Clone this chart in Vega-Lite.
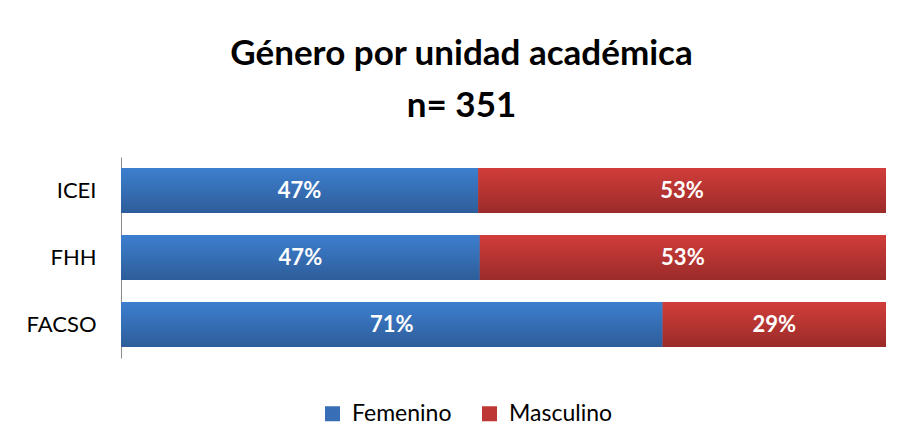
{
  "$schema": "https://vega.github.io/schema/vega-lite/v6.json",
  "autosize": "none",
  "width": 765,
  "height": 201,
  "padding": {"left": 121, "top": 157, "right": 16, "bottom": 84},
  "background": "white",
  "config": {"view": {"stroke": null}, "font": "Lato"},
  "title": {
    "text": ["Género por unidad académica", "n= 351"],
    "font": "Lato",
    "fontSize": 35,
    "fontWeight": "bold",
    "color": "#000000",
    "anchor": "middle",
    "frame": "group",
    "dx": -42,
    "lineHeight": 52,
    "offset": 33
  },
  "data": {
    "values": [
      {"unidad": "ICEI", "genero": "Femenino", "v": 0.467},
      {"unidad": "ICEI", "genero": "Masculino", "v": 0.533},
      {"unidad": "FHH", "genero": "Femenino", "v": 0.469},
      {"unidad": "FHH", "genero": "Masculino", "v": 0.531},
      {"unidad": "FACSO", "genero": "Femenino", "v": 0.708},
      {"unidad": "FACSO", "genero": "Masculino", "v": 0.292}
    ]
  },
  "transform": [
    {"stack": "v", "groupby": ["unidad"], "sort": [{"field": "genero", "order": "ascending"}], "as": ["v0", "v1"]},
    {"calculate": "(datum.v0 + datum.v1) / 2", "as": "mid"}
  ],
  "encoding": {
    "y": {
      "field": "unidad",
      "type": "nominal",
      "sort": ["ICEI", "FHH", "FACSO"],
      "scale": {"paddingInner": 0.33, "paddingOuter": 0.165},
      "axis": {
        "title": null,
        "ticks": false,
        "grid": false,
        "domainColor": "#8c8c8c",
        "labelFont": "Lato",
        "labelFontSize": 22,
        "labelColor": "#000000",
        "labelPadding": 25
      }
    }
  },
  "layer": [
    {
      "mark": {"type": "bar"},
      "encoding": {
        "x": {"field": "v0", "type": "quantitative", "scale": {"domain": [0, 1]}, "axis": null},
        "x2": {"field": "v1"},
        "color": {
          "field": "genero",
          "type": "nominal",
          "scale": {"domain": ["Femenino", "Masculino"], "range": ["#386eb5", "#bd3735"]},
          "legend": {
            "title": null,
            "orient": "none",
            "direction": "horizontal",
            "legendX": 200,
            "legendY": 245,
            "symbolType": "square",
            "symbolSize": 225,
            "symbolStrokeWidth": 0,
            "symbolOpacity": 1,
            "labelFont": "Lato",
            "labelFontSize": 23,
            "labelColor": "#000000",
            "labelOffset": 8,
            "columnPadding": 26
          }
        }
      }
    },
    {
      "mark": {"type": "bar"},
      "encoding": {
        "x": {"field": "v0", "type": "quantitative"},
        "x2": {"field": "v1"},
        "color": {
          "condition": {
            "test": "datum.genero === 'Femenino'",
            "value": {"gradient": "linear", "x1": 0, "y1": 0, "x2": 0, "y2": 1, "stops": [{"offset": 0, "color": "#3d7fcf"}, {"offset": 1, "color": "#2e5d9a"}]}
          },
          "value": {"gradient": "linear", "x1": 0, "y1": 0, "x2": 0, "y2": 1, "stops": [{"offset": 0, "color": "#d13d3a"}, {"offset": 1, "color": "#9a2b29"}]}
        }
      }
    },
    {
      "mark": {"type": "text", "color": "white", "fontWeight": "bold", "fontSize": 22, "font": "Lato", "baseline": "middle"},
      "encoding": {
        "x": {"field": "mid", "type": "quantitative"},
        "text": {"field": "v", "type": "quantitative", "format": ".0%"}
      }
    }
  ]
}
